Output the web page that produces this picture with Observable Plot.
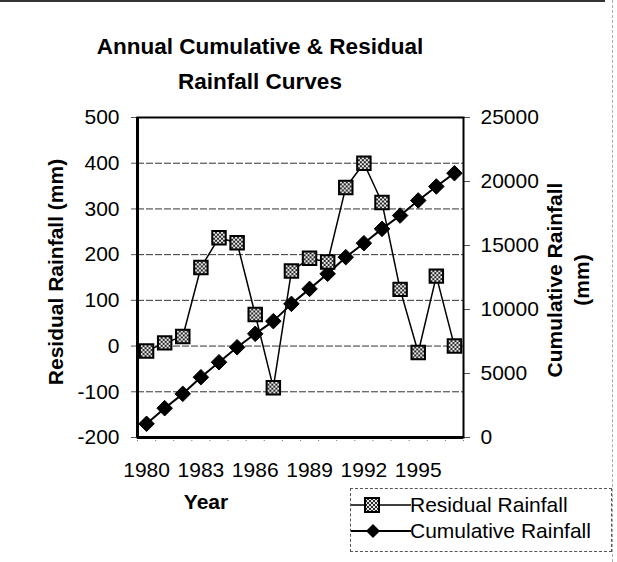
<!DOCTYPE html>
<html><head><meta charset="utf-8">
<script src="https://cdn.jsdelivr.net/npm/d3@7"></script>
<script src="https://cdn.jsdelivr.net/npm/@observablehq/plot@0.6"></script>
<style>
body{margin:0;background:#fff;}
#wrap{position:relative;width:617px;height:562px;font-family:Arial,"Liberation Sans",sans-serif;overflow:hidden;background:#fff;color:#000;}
#wrap svg{position:absolute;left:0;top:0;}
#chart svg text{font-size:21px;font-family:Arial,"Liberation Sans",sans-serif;fill:#000;}
.abs{position:absolute;white-space:nowrap;}
#title{left:60px;width:400px;top:29px;text-align:center;font-weight:bold;font-size:22.5px;line-height:35px;}
#ylab{left:56px;top:272px;transform:translate(-50%,-50%) rotate(-90deg);font-weight:bold;font-size:21px;}
#y2lab{left:568px;top:280px;transform:translate(-50%,-50%) rotate(-90deg);font-weight:bold;font-size:21px;line-height:27px;text-align:center;}
#xlab{left:206px;top:502px;transform:translate(-50%,-50%);font-weight:bold;font-size:21px;}
#legend{left:350px;top:488px;width:262px;height:64px;box-sizing:border-box;border:1px dashed #555;}
.lt{font-size:21px;line-height:26px;}
#topline{left:0;top:0;width:605px;height:0;border-top:2px solid #333;}
#rightline{left:612px;top:0;width:0;height:562px;border-left:1px dashed #aaa;}
</style></head>
<body>
<div id="wrap">
  <div id="chart"></div>
  <div id="topline" class="abs"></div>
  <div id="rightline" class="abs"></div>
  <div id="title" class="abs">Annual Cumulative &amp; Residual<br>Rainfall Curves</div>
  <div id="ylab" class="abs">Residual Rainfall (mm)</div>
  <div id="y2lab" class="abs">Cumulative Rainfall<br>(mm)</div>
  <div id="xlab" class="abs">Year</div>
  <div id="legend" class="abs"></div>
  <svg id="legsvg" width="60" height="52" style="left:351px;top:492px;position:absolute"></svg>
  <div class="abs lt" style="left:410px;top:492px">Residual Rainfall</div>
  <div class="abs lt" style="left:410px;top:518px">Cumulative Rainfall</div>
</div>
<script>
const years = [1980,1981,1982,1983,1984,1985,1986,1987,1988,1989,1990,1991,1992,1993,1994,1995,1996,1997];
const residual = [-11,7,21,172,237,226,69,-91,164,192,184,347,400,314,124,-14,153,0];
const cumulative = [1070,2290,3410,4710,5880,7050,8100,9090,10440,11610,12790,14090,15180,16300,17340,18520,19610,20650];
const resTicks = [-200,-100,0,100,200,300,400,500];
const cumTicks = [0,5000,10000,15000,20000,25000];
const yearTicks = [1980,1983,1986,1989,1992,1995];

const toRes = c => -200 + c * 700 / 25000;
const fromRes = r => Math.round((r + 200) * 25000 / 700);
const data = years.map((y, i) => ({year: y, res: residual[i], cum: cumulative[i], cumR: toRes(cumulative[i])}));
const bounds = years.map(y => y - 0.5).concat([years[years.length - 1] + 0.5]);

const svg = Plot.plot({
  width: 617, height: 562,
  marginLeft: 137, marginRight: 154, marginTop: 117, marginBottom: 125,
  style: {fontFamily: "Arial, 'Liberation Sans', sans-serif", fontSize: "21px", color: "#000", background: "transparent", overflow: "visible"},
  x: {type: "linear", domain: [bounds[0], bounds[bounds.length - 1]]},
  y: {domain: [-200, 500]},
  marks: [
    Plot.gridY(resTicks.slice(1, -1), {stroke: "#333", strokeOpacity: 1, strokeWidth: 1, strokeDasharray: "7,2"}),
    Plot.axisY(resTicks, {anchor: "left", tickSize: 6, tickPadding: 12, label: null, stroke: "#555", fontSize: 21, tickFormat: d => String(d)}),
    Plot.axisY(cumTicks.map(toRes), {anchor: "right", tickSize: 6, tickPadding: 11, label: null, stroke: "#555", fontSize: 21, tickFormat: d => String(fromRes(d))}),
    Plot.axisX(bounds, {anchor: "bottom", tickSize: 5, tickPadding: 0, label: null, stroke: "#777", strokeDasharray: "1,2", tickFormat: () => ""}),
    Plot.axisX(yearTicks, {anchor: "bottom", tickSize: 0, tickPadding: 25, label: null, fontSize: 21, tickFormat: d => String(d)}),
    Plot.frame({stroke: "#000", strokeWidth: 2}),
    Plot.ruleY([-200], {stroke: "#000", strokeWidth: 3}),
    Plot.ruleX([bounds[0]], {stroke: "#000", strokeWidth: 3}),
    Plot.line(data, {x: "year", y: "cumR", stroke: "#000", strokeWidth: 2}),
    Plot.dot(data, {x: "year", y: "cumR", symbol: "diamond2", r: 7, fill: "#000", stroke: "#000", strokeWidth: 1}),
    Plot.line(data, {x: "year", y: "res", stroke: "#000", strokeWidth: 1.5}),
    Plot.dot(data, {x: "year", y: "res", symbol: "square", r: 7.6, fill: "url(#chk)", stroke: "#000", strokeWidth: 2})
  ]
});

const defs = d3.select(svg).insert("defs", ":first-child");
const pat = defs.append("pattern").attr("id", "chk").attr("patternUnits", "userSpaceOnUse").attr("width", 4).attr("height", 4);
pat.append("rect").attr("width", 4).attr("height", 4).attr("fill", "#2a2a2a");
pat.append("rect").attr("x", 0).attr("y", 0).attr("width", 2).attr("height", 2).attr("fill", "#e8e8e8");
pat.append("rect").attr("x", 2).attr("y", 2).attr("width", 2).attr("height", 2).attr("fill", "#e8e8e8");

document.getElementById("chart").appendChild(svg);

// legend samples
const lg = d3.select("#legsvg");
lg.append("line").attr("x1", 0).attr("x2", 60).attr("y1", 13).attr("y2", 13).attr("stroke", "#000").attr("stroke-width", 1.5);
lg.append("rect").attr("x", 14).attr("y", 6).attr("width", 14).attr("height", 14).attr("fill", "url(#chk)").attr("stroke", "#000").attr("stroke-width", 2);
lg.append("line").attr("x1", 0).attr("x2", 60).attr("y1", 39).attr("y2", 39).attr("stroke", "#000").attr("stroke-width", 2);
lg.append("path").attr("d", "M22,32L29,39L22,46L15,39Z").attr("fill", "#000");
</script>
</body></html>
